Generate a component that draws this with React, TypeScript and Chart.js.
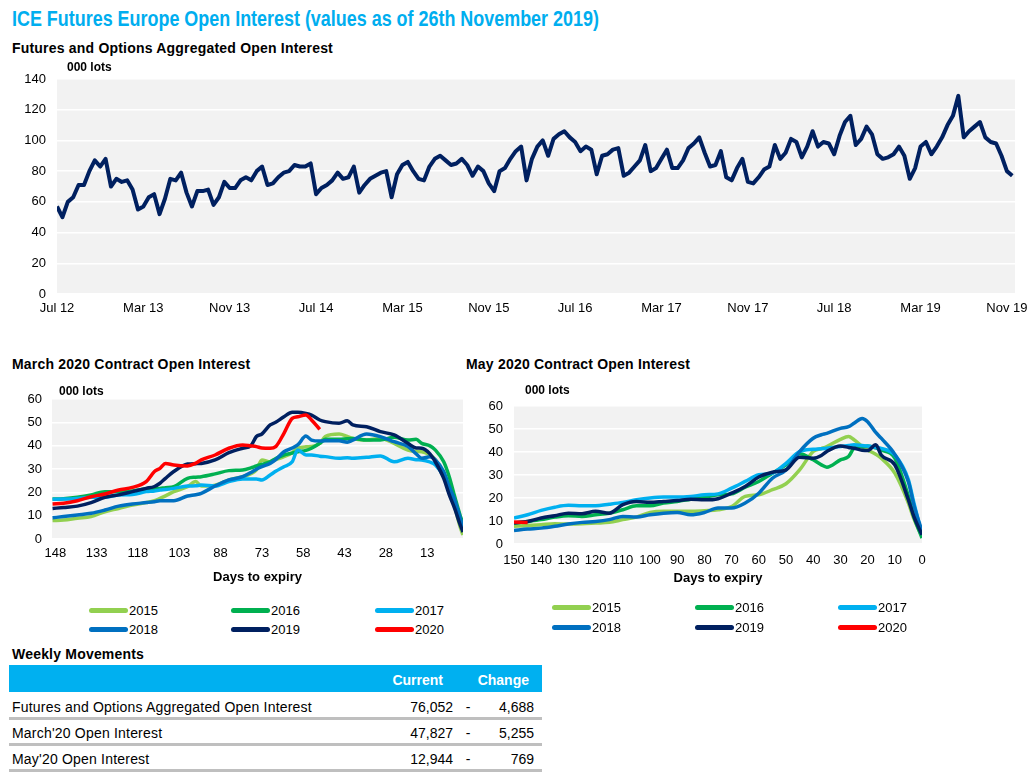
import React, { useEffect, useRef } from "react";
import { Chart, registerables } from "chart.js";

Chart.register(...registerables);

const FONT = '"Liberation Sans", Arial, Helvetica, sans-serif';

// ---------- Top chart: aggregated open interest (half-month samples, Jul 2012 - Nov 2019) ----------
const topTickLabels = ["Jul 12", "Mar 13", "Nov 13", "Jul 14", "Mar 15", "Nov 15", "Jul 16", "Mar 17", "Nov 17", "Jul 18", "Mar 19", "Nov 19"];
const topTickEvery = 16; // half-month samples per labelled interval (8 months)
const aggregatedOpenInterest = [
  57, 50, 60, 63, 71, 71, 80, 87, 83, 88,
  70, 75, 73, 74, 68, 55, 57, 63, 65, 52,
  62, 75, 74, 79, 66, 57, 67, 67, 68, 58,
  63, 73, 69, 69, 74, 76, 74, 80, 83, 71,
  72, 76, 79, 80, 84, 83, 83, 85, 65, 69,
  71, 74, 79, 75, 76, 83, 66, 71, 75, 77,
  79, 80, 63, 78, 84, 86, 80, 75, 74, 83,
  88, 90, 87, 84, 85, 88, 84, 77, 83, 80,
  72, 67, 80, 82, 88, 93, 96, 74, 88, 96,
  100, 90, 101, 104, 106, 102, 99, 93, 96, 94,
  78, 90, 91, 94, 95, 77, 79, 83, 87, 97,
  80, 82, 88, 94, 82, 82, 87, 95, 98, 102,
  92, 83, 84, 93, 76, 74, 82, 88, 73, 72,
  76, 81, 83, 97, 88, 92, 101, 99, 89, 96,
  106, 96, 99, 98, 91, 103, 112, 116, 97, 101,
  109, 104, 91, 88, 89, 91, 96, 90, 75, 82,
  96, 99, 91, 96, 102, 110, 116, 129, 102, 106,
  109, 112, 102, 99, 98, 90, 80, 77,
];

// ---------- Series ----------
const seriesNames = ["2015", "2016", "2017", "2018", "2019", "2020"];
const seriesColors = ["#92D050", "#00B050", "#00B0F0", "#0070C0", "#002060", "#FF0000"];

// ---------- March 2020 contract ----------
const marchTicks = [148, 133, 118, 103, 88, 73, 58, 43, 28, 13];
const marchDays = [149, 145, 140, 135, 130, 125, 120, 115, 112, 110, 108, 105, 100, 97, 95, 90, 85, 80, 77, 75, 73, 70, 68, 65, 62, 60, 57, 55, 52, 50, 45, 42, 40, 35, 30, 25, 20, 17, 15, 12, 10, 7, 5, 3, 1, 0];
const march2015 = [7.9, 8.1, 8.9, 9.6, 11.7, 13.1, 14.6, 15.6, 16.4, 17.4, 18.5, 20.3, 22.4, 24.6, 22.7, 23.1, 25.3, 26.7, 28, 29.6, 33.9, 33.1, 34, 35.3, 37, 38.9, 39.5, 39.6, 41, 43.9, 45, 44, 43.1, 42.4, 43.1, 41, 38.1, 37.5, 37.4, 36, 33.9, 28.1, 22.4, 13.9, 5, 1.7];
const march2016 = [17.1, 17.3, 17.9, 18.9, 20.3, 20.3, 20.6, 21.4, 21.5, 21.7, 22, 22.4, 26, 26.5, 26.7, 27.9, 29.3, 29.6, 30.5, 31.3, 32, 33.1, 34.5, 36, 36.8, 37.4, 38, 38.9, 41, 42.7, 42.7, 43, 43.1, 42.4, 42.4, 43.6, 42.4, 42.7, 41, 39.9, 38.1, 33.1, 26.7, 18.1, 10, 6.7];
const march2017 = [17, 17.1, 17.4, 17.9, 17.9, 18.9, 19.1, 20.3, 20.6, 21, 21.2, 21.7, 22.7, 22.8, 23.1, 22.7, 24.6, 25.7, 25.7, 25.7, 25.3, 27.4, 29, 31, 33.1, 38.1, 36, 36, 35.5, 35.3, 34.6, 34.8, 34.6, 35, 35.6, 33.1, 34.6, 34, 33.9, 33, 31.7, 26.7, 21, 15.3, 8, 4.6];
const march2018 = [9.1, 9.6, 10.3, 11, 12.4, 14.1, 15, 15.6, 16, 16.4, 16.4, 16.4, 18.4, 19, 19.6, 22.7, 25.3, 26.7, 28.5, 29.9, 31, 32.4, 34, 37.4, 39, 40.3, 44.1, 42.4, 42, 42.1, 42.1, 41.5, 42.4, 45, 43.9, 41.7, 39.6, 36.5, 34.6, 35.3, 33.9, 28.9, 22.4, 16.7, 9, 5.3];
const march2019 = [13.1, 13.5, 14.1, 15.6, 17.9, 18.9, 20.3, 21.7, 22.5, 23.9, 26, 28.9, 32.1, 32.3, 32.4, 33.9, 37, 38.9, 40, 43.9, 45, 48.9, 50, 52.4, 54.3, 54.3, 53.8, 53.1, 51, 50.3, 49.6, 50.7, 48.9, 48.1, 46, 44.6, 41, 39, 38.9, 36.5, 33, 26, 19, 13, 6, 3];
const march2020 = [15, 15.3, 16.4, 18.1, 19.3, 21, 22.1, 24.6, 28.9, 30.3, 32.4, 31.7, 31.3, 32.5, 33.9, 36, 38.9, 40.3, 39.9, 39.6, 39, 38.9, 39.6, 45.3, 51.7, 52.4, 53.1, 51, 47, null, null, null, null, null, null, null, null, null, null, null, null, null, null, null, null, null];

// ---------- May 2020 contract ----------
const mayTicks = [150, 140, 130, 120, 110, 100, 90, 80, 70, 60, 50, 40, 30, 20, 10, 0];
const mayDays = [150, 145, 140, 135, 130, 125, 120, 115, 110, 105, 100, 95, 90, 85, 80, 75, 70, 65, 60, 55, 50, 45, 40, 37, 35, 30, 27, 25, 22, 20, 17, 15, 10, 5, 3, 0];
const may2015 = [7.7, 8, 8.4, 8.8, 8.7, 8.8, 9.1, 9.4, 10.6, 11.7, 13.7, 14.2, 14.2, 14.2, 14.5, 14.9, 16.3, 20.7, 21.4, 23.6, 26.2, 32.2, 40.2, 41.5, 42.4, 45.5, 46.7, 45.3, 42.5, 40.9, 39, 37.3, 30.8, 17.8, 11, 3.3];
const may2016 = [9.1, 9.8, 10.6, 11.7, 12.3, 12, 12.7, 13.4, 14.9, 16.6, 16.6, 17.8, 18.5, 19.5, 20.4, 21.4, 21.8, 24.7, 27.2, 30.8, 34.4, 39.2, 36.6, 34.4, 33.4, 36.6, 38, 41.6, 42.3, 42.6, 41.8, 40.9, 37.3, 20.7, 12, 2.6];
const may2017 = [11.3, 12.7, 14.6, 16, 16.8, 16.6, 16.6, 17.3, 18.1, 19.2, 20, 20.4, 20.4, 20.7, 21.4, 21.8, 24.3, 27.2, 30.1, 30.8, 35.1, 40.2, 41.2, 41.4, 41.6, 42.4, 42.8, 43.1, 42.8, 42.6, 42, 41.6, 38.7, 27.9, 18, 4];
const may2018 = [5.9, 6.5, 6.9, 7.7, 8.7, 9.4, 9.8, 10.6, 12, 11.7, 12.7, 13.4, 13.7, 12.7, 13.7, 15.6, 15.6, 17.8, 22.1, 28.6, 32.2, 40.2, 46, 47.5, 48.1, 50.3, 51, 52.5, 54.6, 53.2, 48.5, 46, 39, 27, 17, 5.5];
const may2019 = [9.1, 9.8, 11.3, 12.3, 13.4, 13.2, 14.2, 13.4, 17.1, 18.5, 18.1, 18.5, 18.9, 19.5, 19.2, 19.7, 22.1, 25, 29.1, 31.2, 32.2, 37.7, 37.3, 38.5, 40.2, 42.6, 42, 41.6, 40.8, 40.6, 43.1, 38.7, 34.4, 19.2, 12, 4];
const may2020 = [9.6, 9.3, null, null, null, null, null, null, null, null, null, null, null, null, null, null, null, null, null, null, null, null, null, null, null, null, null, null, null, null, null, null, null, null, null, null];

// ---------- Weekly movements table ----------
const tableRows = ["Futures and Options Aggregated Open Interest", "March'20 Open Interest", "May'20 Open Interest"];
const tableCurrent = ["76,052", "47,827", "12,944"];
const tableChange = ["4,688", "5,255", "769"];

const plotBg = {
  id: "plotBg",
  beforeDraw(chart: any) {
    const { ctx, chartArea: a } = chart;
    ctx.save();
    ctx.fillStyle = "#F2F2F2";
    ctx.fillRect(a.left, a.top, a.right - a.left, a.bottom - a.top);
    ctx.restore();
  },
};

Chart.defaults.font.family = FONT;
Chart.defaults.font.size = 13;
Chart.defaults.color = "#000";

function topConfig(): any {
  return {
    type: "line",
    data: {
      datasets: [
        {
          label: "Open interest",
          data: aggregatedOpenInterest.map((v, i) => ({ x: i, y: v })),
          borderColor: "#002060",
          borderWidth: 4,
          pointRadius: 0,
          tension: 0,
          borderJoinStyle: "round",
          fill: false,
        },
      ],
    },
    options: {
      responsive: false,
      animation: false,
      devicePixelRatio: 1,
      layout: { padding: { top: 24, right: 12, left: 0, bottom: 0 } },
      plugins: { legend: { display: false }, tooltip: { enabled: false } },
      scales: {
        x: {
          type: "linear",
          min: 0,
          max: 177.5,
          afterBuildTicks: (s: any) => {
            s.ticks = topTickLabels.map((_, k) => ({ value: k * topTickEvery }));
          },
          afterFit: (s: any) => {
            s.height = 31;
            s.paddingLeft = 0;
            s.paddingRight = 0;
          },
          grid: { display: false, drawTicks: false },
          border: { display: false },
          ticks: {
            padding: 7,
            autoSkip: false,
            maxRotation: 0,
            callback: (_v: any, i: number) => topTickLabels[i],
          },
        },
        y: {
          min: 0,
          max: 140,
          afterFit: (s: any) => {
            s.width = 57;
          },
          grid: { color: "#FFFFFF", lineWidth: 1.5, drawTicks: false },
          border: { display: false },
          ticks: { stepSize: 20, padding: 11 },
        },
      },
    },
    plugins: [plotBg],
  };
}

function contractConfig(
  days: number[],
  series: (number | null)[][],
  ticks: number[],
  xmax: number,
  pad: any,
  yWidth: number,
  xHeight: number,
  tickPad: number,
  titlePad: number,
  yTickPad: number
): any {
  return {
    type: "line",
    data: {
      datasets: series.map((vals, k) => ({
        label: seriesNames[k],
        data: days
          .map((d, i) => ({ x: d, y: vals[i] }))
          .filter((p) => p.y !== null),
        borderColor: seriesColors[k],
        borderWidth: 3.5,
        pointRadius: 0,
        cubicInterpolationMode: "monotone",
        order: series.length - k,
        fill: false,
      })),
    },
    options: {
      responsive: false,
      animation: false,
      devicePixelRatio: 1,
      layout: { padding: pad },
      plugins: { legend: { display: false }, tooltip: { enabled: false } },
      scales: {
        x: {
          type: "linear",
          reverse: true,
          min: 0,
          max: xmax,
          afterBuildTicks: (s: any) => {
            s.ticks = ticks.map((v) => ({ value: v }));
          },
          afterFit: (s: any) => {
            s.height = xHeight;
            s.paddingLeft = 0;
            s.paddingRight = 0;
          },
          grid: { display: false, drawTicks: false },
          border: { display: false },
          ticks: { padding: tickPad, autoSkip: false, maxRotation: 0 },
          title: {
            display: true,
            text: "Days to expiry",
            font: { size: 13, weight: "bold" },
            color: "#000",
            padding: { top: 0, bottom: titlePad },
          },
        },
        y: {
          min: 0,
          max: 60,
          afterFit: (s: any) => {
            s.width = yWidth;
          },
          grid: { color: "#FFFFFF", lineWidth: 1.5, drawTicks: false },
          border: { display: false },
          ticks: { stepSize: 10, padding: yTickPad },
        },
      },
    },
    plugins: [plotBg],
  };
}

function ChartCanvas(props: { make: () => any; left: number; top: number; width: number; height: number }) {
  const ref = useRef<HTMLCanvasElement | null>(null);
  useEffect(() => {
    if (!ref.current) return;
    const chart = new Chart(ref.current, props.make());
    return () => chart.destroy();
  }, []);
  return (
    <canvas
      ref={ref}
      width={props.width}
      height={props.height}
      style={{ position: "absolute", left: props.left, top: props.top, width: props.width, height: props.height }}
    />
  );
}

function Text(props: { left: number; cy: number; children: any; size?: number; bold?: boolean; color?: string; align?: "left" | "right" | "center"; width?: number; spacing?: number; scaleX?: number }) {
  const size = props.size ?? 13;
  const lh = Math.round(size * 1.3);
  const style: any = {
    position: "absolute",
    top: props.cy - lh / 2,
    lineHeight: lh + "px",
    fontSize: size,
    fontWeight: props.bold ? "bold" : "normal",
    color: props.color ?? "#000",
    fontFamily: FONT,
    whiteSpace: "nowrap",
    letterSpacing: props.spacing ? props.spacing + "px" : undefined,
  };
  if (props.scaleX) {
    style.transform = `scaleX(${props.scaleX})`;
    style.transformOrigin = "left center";
  }
  if (props.align === "right") {
    style.left = props.left - (props.width ?? 200);
    style.width = props.width ?? 200;
    style.textAlign = "right";
  } else if (props.align === "center") {
    style.left = props.left - (props.width ?? 100) / 2;
    style.width = props.width ?? 100;
    style.textAlign = "center";
  } else {
    style.left = props.left;
  }
  return <div style={style}>{props.children}</div>;
}

function Legend(props: { cols: number[]; rows: number[] }) {
  return (
    <>
      {seriesNames.map((name, k) => {
        const x = props.cols[k % 3];
        const y = props.rows[Math.floor(k / 3)];
        return (
          <React.Fragment key={name}>
            <div
              style={{
                position: "absolute",
                left: x,
                top: y - 2.5,
                width: 39,
                height: 5,
                borderRadius: 2.5,
                background: seriesColors[k],
              }}
            />
            <Text left={x + 40} cy={y}>{name}</Text>
          </React.Fragment>
        );
      })}
    </>
  );
}

export default function App() {
  const marchSeries = [march2015, march2016, march2017, march2018, march2019, march2020];
  const maySeries = [may2015, may2016, may2017, may2018, may2019, may2020];
  const rowCy = [707, 733, 759];
  return (
    <div style={{ position: "absolute", left: 0, top: 0, width: 1027, height: 783, background: "#fff", fontFamily: FONT, overflow: "hidden" }}>
      <Text left={12} cy={18.5} size={22} bold color="#00AEEF" scaleX={0.815}>
        ICE Futures Europe Open Interest (values as of 26th November 2019)
      </Text>
      <Text left={12} cy={47.5} size={14} bold spacing={0.2}>Futures and Options Aggregated Open Interest</Text>
      <ChartCanvas make={topConfig} left={0} top={55} width={1027} height={270} />
      <Text left={67} cy={67} size={12} bold>000 lots</Text>

      <Text left={12} cy={364} size={14} bold spacing={0.2}>March 2020 Contract Open Interest</Text>
      <Text left={466} cy={364} size={14} bold spacing={0.2}>May 2020 Contract Open Interest</Text>

      <ChartCanvas
        make={() => contractConfig(marchDays, marchSeries, marchTicks, 149.2, { top: 19, right: 7, left: 0, bottom: 0 }, 52, 51, 7, 5, 10)}
        left={0}
        top={380}
        width={470}
        height={210}
      />
      <Text left={59} cy={391} size={12} bold>000 lots</Text>
      <Legend cols={[89, 231, 375]} rows={[610, 629.5]} />

      <ChartCanvas
        make={() => contractConfig(mayDays, maySeries, mayTicks, 150, { top: 26, right: 10, left: 0, bottom: 0 }, 52, 46, 9, 4, 11)}
        left={462}
        top={380}
        width={470}
        height={210}
      />
      <Text left={525} cy={390} size={12} bold>000 lots</Text>
      <Legend cols={[552, 695, 838]} rows={[607.5, 627]} />

      <Text left={12} cy={654} size={14} bold spacing={0.2}>Weekly Movements</Text>
      <div style={{ position: "absolute", left: 9, top: 665, width: 533, height: 27, background: "#00B0F0" }} />
      <Text left={443} cy={680} size={14} bold color="#fff" align="right" width={100}>Current</Text>
      <Text left={529} cy={680} size={14} bold color="#fff" align="right" width={100}>Change</Text>
      {tableRows.map((label, r) => (
        <React.Fragment key={label}>
          <Text left={12} cy={rowCy[r]} size={14} spacing={0.2}>{label}</Text>
          <Text left={453} cy={rowCy[r]} size={14} align="right" width={100}>{tableCurrent[r]}</Text>
          <Text left={468} cy={rowCy[r]} size={14} align="center" width={20}>-</Text>
          <Text left={534} cy={rowCy[r]} size={14} align="right" width={100}>{tableChange[r]}</Text>
          <div style={{ position: "absolute", left: 9, top: rowCy[r] + 10, width: 533, height: 3, background: "#BFBFBF" }} />
        </React.Fragment>
      ))}
    </div>
  );
}
